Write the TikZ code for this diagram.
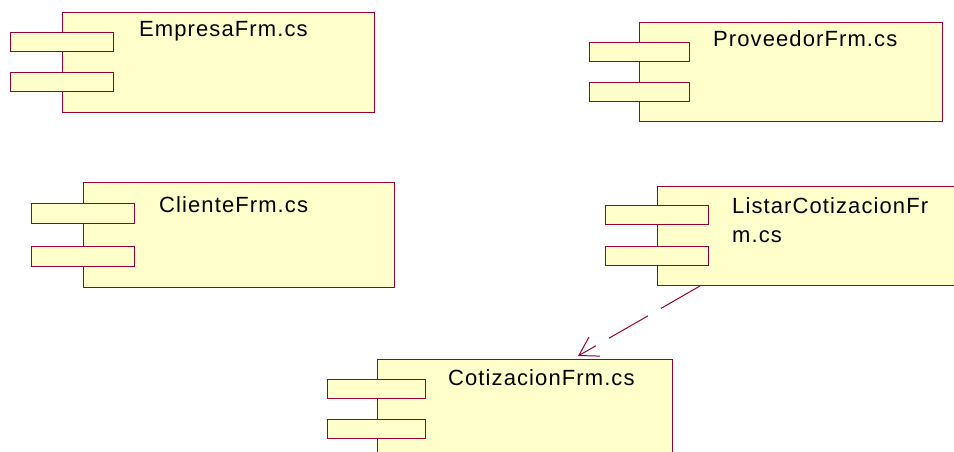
\documentclass[tikz,border=0pt]{standalone}
\usepackage{fontspec}
\setmainfont{Liberation Sans}
\usetikzlibrary{arrows.meta}
\definecolor{compfill}{RGB}{255,255,204}
\definecolor{compline}{RGB}{153,0,51}

\begin{document}
\begin{tikzpicture}[x=1pt,y=-1pt,
    compbox/.style={draw=compline, fill=compfill, line width=1pt, anchor=north west, inner sep=0pt, minimum height=100pt},
    portbox/.style={draw=compline, fill=compfill, line width=1pt, anchor=north west, inner sep=0pt, minimum width=103pt, minimum height=19pt},
    compname/.style={anchor=base west, inner sep=0pt, align=left, font=\fontsize{22}{29}\selectfont\addfontfeature{LetterSpace=5}},
    dep/.style={draw=compline, line width=1pt, dash pattern=on 45pt off 15pt, -{Straight Barb[length=18pt,width=22pt]}}]
    \useasboundingbox (0,0) rectangle (954,452);
    \clip (0,0) rectangle (954,452);

    % EmpresaFrm.cs
    \node[compbox, minimum width=312pt] (empresa) at (62,12) {};
    \node[portbox] (empresa-p1) at (10,32) {};
    \node[portbox] (empresa-p2) at (10,72) {};
    \node[compname] (empresa-name) at (139,37) {EmpresaFrm.cs};

    % ProveedorFrm.cs
    \node[compbox, minimum width=303pt, minimum height=99pt] (proveedor) at (639,22) {};
    \node[portbox, minimum width=100pt] (proveedor-p1) at (589,42) {};
    \node[portbox, minimum width=100pt] (proveedor-p2) at (589,82) {};
    \node[compname] (proveedor-name) at (713,47) {ProveedorFrm.cs};

    % ClienteFrm.cs
    \node[compbox, minimum width=311pt, minimum height=105pt] (cliente) at (83,182) {};
    \node[portbox, minimum height=20pt] (cliente-p1) at (31,203) {};
    \node[portbox, minimum height=20pt] (cliente-p2) at (31,246) {};
    \node[compname] (cliente-name) at (159,212) {ClienteFrm.cs};

    % ListarCotizacionFrm.cs
    \node[compbox, minimum width=310pt, minimum height=99pt] (listar) at (657,186) {};
    \node[portbox] (listar-p1) at (605,205) {};
    \node[portbox] (listar-p2) at (605,246) {};
    \node[compname] (listar-name) at (732,242) {ListarCotizacionFr\\m.cs};

    % CotizacionFrm.cs
    \node[compbox, minimum width=295pt] (cotizacion) at (377,359) {};
    \node[portbox, minimum width=98pt] (cotizacion-p1) at (327,379) {};
    \node[portbox, minimum width=98pt] (cotizacion-p2) at (327,419) {};
    \node[compname] (cotizacion-name) at (448,385) {CotizacionFrm.cs};

    % dependencia
    \draw[dep] ([xshift=43pt]listar.south west) -- ([xshift=201pt,yshift=3pt]cotizacion.north west);
\end{tikzpicture}
\end{document}
